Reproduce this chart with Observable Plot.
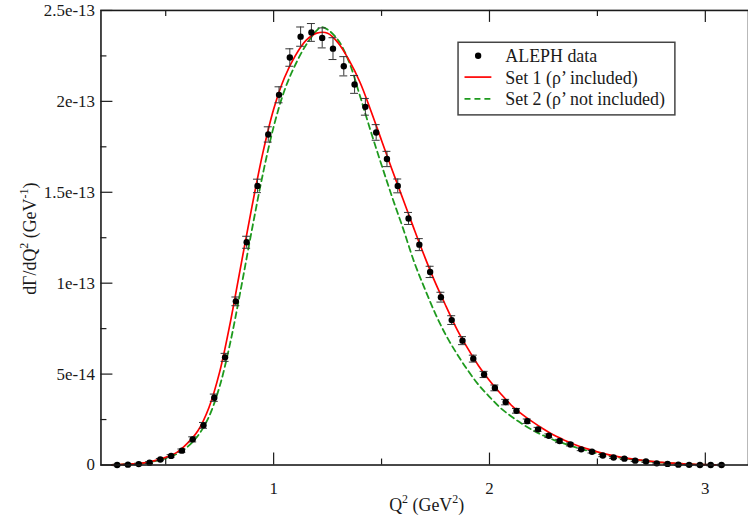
<!DOCTYPE html>
<html>
<head>
<meta charset="utf-8">
<script src="https://cdn.jsdelivr.net/npm/d3@7"></script>
<script src="https://cdn.jsdelivr.net/npm/@observablehq/plot@0.6"></script>
<style>
  html, body { margin: 0; padding: 0; background: white; overflow: hidden; }
  #chart svg { display: block; }
</style>
</head>
<body>
<div id="chart"></div>
<script>
// ALEPH data: Q^2 bin centers (GeV^2), dGamma/dQ^2 in units of 1e-13 GeV^-1, errors
const dataQ = [0.275,0.325,0.375,0.425,0.475,0.525,0.575,0.625,0.675,0.725,
  0.775,0.825,0.875,0.925,0.975,1.025,1.075,1.125,1.175,1.225,
  1.275,1.325,1.375,1.425,1.475,1.525,1.575,1.625,1.675,1.725,
  1.775,1.825,1.875,1.925,1.975,2.025,2.075,2.125,2.175,2.225,
  2.275,2.325,2.375,2.425,2.475,2.525,2.575,2.625,2.675,2.725,
  2.775,2.825,2.875,2.925,2.975,3.025,3.075];
const dataV = [0.000,0.002,0.005,0.013,0.030,0.050,0.079,0.141,0.218,0.370,
  0.592,0.900,1.225,1.535,1.818,2.036,2.241,2.356,2.379,2.349,
  2.290,2.193,2.093,1.970,1.829,1.683,1.535,1.356,1.212,1.062,
  0.923,0.797,0.684,0.585,0.498,0.424,0.346,0.298,0.241,0.196,
  0.161,0.132,0.113,0.086,0.073,0.052,0.041,0.035,0.024,0.019,
  0.009,0.006,0.002,0.001,0.000,0.000,0.000];
const dataErr = [0.004,0.004,0.004,0.005,0.006,0.007,0.009,0.014,0.016,0.020,
  0.022,0.024,0.033,0.037,0.042,0.044,0.048,0.053,0.049,0.055,
  0.060,0.053,0.049,0.046,0.043,0.042,0.038,0.033,0.033,0.031,
  0.027,0.024,0.022,0.019,0.017,0.016,0.015,0.013,0.012,0.011,
  0.010,0.009,0.008,0.007,0.007,0.006,0.005,0.005,0.005,0.005,
  0.004,0.004,0.004,0.004,0.004,0.004,0.004];

// Set 1 (rho' included) curve
const set1Q = [0.25,0.30,0.35,0.40,0.45,0.50,0.55,0.60,0.65,0.70,0.75,0.80,0.85,0.90,0.95,
  1.00,1.05,1.10,1.15,1.20,1.25,1.30,1.35,1.40,1.45,1.50,1.55,1.60,1.65,1.70,1.75,
  1.80,1.85,1.90,1.95,2.00,2.05,2.10,2.15,2.20,2.25,2.30,2.35,2.40,2.45,2.50,2.55,
  2.60,2.65,2.70,2.75,2.80,2.85,2.90,2.95,3.00,3.05];
const set1V = [0.001,0.003,0.006,0.012,0.024,0.042,0.068,0.119,0.190,0.315,0.512,0.789,1.108,1.424,1.717,
  1.957,2.130,2.250,2.335,2.375,2.375,2.320,2.225,2.105,1.950,1.785,1.620,1.460,1.300,1.145,1.000,
  0.870,0.745,0.640,0.545,0.465,0.395,0.330,0.280,0.237,0.198,0.163,0.135,0.110,0.090,0.072,0.057,
  0.045,0.035,0.027,0.020,0.014,0.010,0.006,0.004,0.002,0.001];

// Set 2 (rho' not included) curve
const set2Q = [0.25,0.30,0.35,0.40,0.45,0.50,0.55,0.60,0.65,0.70,0.75,0.80,0.85,0.90,0.95,
  1.00,1.05,1.10,1.15,1.20,1.22,1.25,1.30,1.35,1.40,1.45,1.50,1.55,1.60,1.65,1.70,1.75,
  1.80,1.85,1.90,1.95,2.00,2.05,2.10,2.15,2.20,2.25,2.30,2.35,2.40,2.45,2.50,2.55,
  2.60,2.65,2.70,2.75,2.80,2.85,2.90,2.95,3.00,3.05];
const set2V = [0.001,0.003,0.006,0.011,0.021,0.037,0.060,0.099,0.162,0.265,0.433,0.678,0.980,1.298,1.600,
  1.860,2.060,2.200,2.310,2.390,2.408,2.395,2.335,2.215,2.030,1.835,1.650,1.470,1.300,1.120,0.970,0.830,
  0.710,0.610,0.520,0.440,0.375,0.315,0.268,0.227,0.192,0.162,0.137,0.116,0.097,0.080,0.065,0.052,
  0.041,0.032,0.025,0.019,0.013,0.009,0.006,0.004,0.002,0.001];

// Axis ticks and labels
const xMajor = [1, 2, 3];
const xMajorLabels = ["1", "2", "3"];
const xMinor = [0.5, 1.5, 2.5];
const yMajor = [0, 0.5, 1, 1.5, 2, 2.5];
const yMajorLabels = ["0", "5e-14", "1e-13", "1.5e-13", "2e-13", "2.5e-13"];
const yMinor = [0.25, 0.75, 1.25, 1.75, 2.25];

const legendLabels = ["ALEPH data", "Set 1 (\u03C1\u2019 included)", "Set 2 (\u03C1\u2019 not included)"];

const RED = "#ff0000";
const GREEN = "#1e9a1e";
const INK = "#1a1a1a";

const points = dataQ.map((q, i) => ({q, v: dataV[i], e: dataErr[i]}));
const set1 = set1Q.map((q, i) => ({q, v: set1V[i]}));
const set2 = set2Q.map((q, i) => ({q, v: set2V[i]}));

const W = 752, H = 524, ML = 101, MR = 0, MT = 10, MB = 57;
const PW = W - ML - MR, PH = H - MT - MB;
const FONT = "'Liberation Serif', 'Times New Roman', serif";

const chart = Plot.plot({
  width: W, height: H,
  marginLeft: ML, marginRight: MR, marginTop: MT, marginBottom: MB,
  style: {fontFamily: FONT, fontSize: "17px", color: INK, background: "white", overflow: "visible"},
  x: {domain: [0.2, 3.2], ticks: xMajor, tickSize: 0, tickPadding: 17,
      tickFormat: d => xMajorLabels[xMajor.indexOf(d)], label: null},
  y: {domain: [0, 2.5], ticks: yMajor, tickSize: 0, tickPadding: 6,
      tickFormat: d => yMajorLabels[yMajor.indexOf(d)], label: null},
  marks: [
    Plot.line(set2, {x: "q", y: "v", stroke: GREEN, strokeWidth: 1.8, strokeDasharray: "6,4", curve: "catmull-rom"}),
    Plot.line(set1, {x: "q", y: "v", stroke: RED, strokeWidth: 1.7, curve: "catmull-rom"}),
    Plot.ruleX(points, {x: "q", y1: d => d.v - d.e, y2: d => d.v + d.e, stroke: "#333", strokeWidth: 1}),
    Plot.ruleY(points, {y: d => d.v + d.e, x1: "q", x2: "q", insetLeft: -4, insetRight: -4, stroke: "#333", strokeWidth: 1}),
    Plot.ruleY(points, {y: d => d.v - d.e, x1: "q", x2: "q", insetLeft: -4, insetRight: -4, stroke: "#333", strokeWidth: 1}),
    Plot.dot(points, {x: "q", y: "v", r: 3.2, fill: "black", stroke: "none"}),
    // inward ticks: bottom, top, left
    Plot.tickX(xMajor, {x: d => d, insetTop: PH - 12, stroke: INK, strokeWidth: 1.2}),
    Plot.tickX(xMinor, {x: d => d, insetTop: PH - 6, stroke: INK, strokeWidth: 1.2}),
    Plot.tickX(xMajor, {x: d => d, insetBottom: PH - 12, stroke: INK, strokeWidth: 1.2}),
    Plot.tickX(xMinor, {x: d => d, insetBottom: PH - 6, stroke: INK, strokeWidth: 1.2}),
    Plot.tickY(yMajor, {y: d => d, insetRight: PW - 12, stroke: INK, strokeWidth: 1.2}),
    Plot.tickY(yMinor, {y: d => d, insetRight: PW - 6, stroke: INK, strokeWidth: 1.2}),
    Plot.frame({stroke: INK, strokeWidth: 1.6})
  ]
});

const svg = d3.select(chart);

// X axis label: Q^2 (GeV^2)
const xl = svg.append("text")
  .attr("x", 429).attr("y", 514)
  .attr("text-anchor", "middle")
  .attr("font-family", FONT).attr("font-size", 18).attr("fill", INK);
xl.append("tspan").text("Q");
xl.append("tspan").attr("font-size", 12).attr("dy", -8).text("2");
xl.append("tspan").attr("dy", 8).text(" (GeV");
xl.append("tspan").attr("font-size", 12).attr("dy", -8).text("2");
xl.append("tspan").attr("dy", 8).text(")");

// Y axis label: dΓ/dQ^2 (GeV^-1)
const yl = svg.append("text")
  .attr("transform", "translate(36,240) rotate(-90)")
  .attr("text-anchor", "middle")
  .attr("font-family", FONT).attr("font-size", 18).attr("fill", INK);
yl.append("tspan").text("d\u0393/dQ");
yl.append("tspan").attr("font-size", 12).attr("dy", -8).text("2");
yl.append("tspan").attr("dy", 8).text(" (GeV");
yl.append("tspan").attr("font-size", 12).attr("dy", -8).text("-1");
yl.append("tspan").attr("dy", 8).text(")");

// Legend
const lg = svg.append("g").attr("text-anchor", "start");
lg.append("rect").attr("x", 460.5).attr("y", 42.5).attr("width", 218).attr("height", 73)
  .attr("fill", "white").attr("stroke", "#444").attr("stroke-width", 1.5);
const rowY = [56, 77.5, 99.5];
lg.append("circle").attr("cx", 480.7).attr("cy", rowY[0]).attr("r", 3.2).attr("fill", "black");
lg.append("line").attr("x1", 467).attr("x2", 494).attr("y1", rowY[1]).attr("y2", rowY[1])
  .attr("stroke", RED).attr("stroke-width", 1.7);
lg.append("line").attr("x1", 467).attr("x2", 496).attr("y1", rowY[2]).attr("y2", rowY[2])
  .attr("stroke", GREEN).attr("stroke-width", 1.8).attr("stroke-dasharray", "6,4");
legendLabels.forEach((t, i) => {
  lg.append("text").attr("x", 508).attr("y", rowY[i] + 6.5)
    .attr("text-anchor", "start")
    .attr("font-family", FONT).attr("font-size", 18).attr("fill", INK).text(t);
});

document.getElementById("chart").appendChild(chart);
</script>
</body>
</html>
